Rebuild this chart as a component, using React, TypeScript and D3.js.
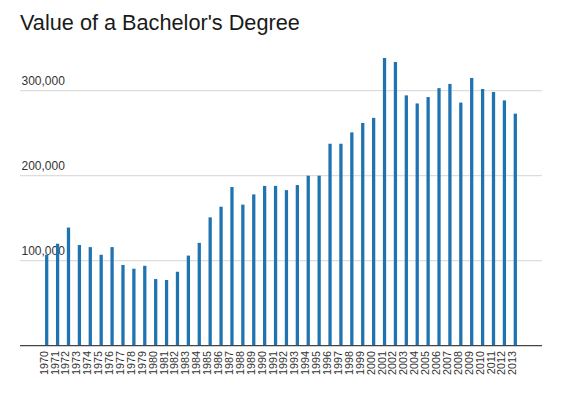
import React, { useEffect, useRef } from "react";
import * as d3 from "d3";

const years = [
  "1970", "1971", "1972", "1973", "1974", "1975", "1976", "1977", "1978", "1979",
  "1980", "1981", "1982", "1983", "1984", "1985", "1986", "1987", "1988", "1989",
  "1990", "1991", "1992", "1993", "1994", "1995", "1996", "1997", "1998", "1999",
  "2000", "2001", "2002", "2003", "2004", "2005", "2006", "2007", "2008", "2009",
  "2010", "2011", "2012", "2013",
];

const values = [
  107000, 120000, 139000, 118500, 116000, 107000, 116000, 95000, 90600, 94000,
  78400, 77300, 87000, 106000, 121000, 151000, 163500, 186700, 166000, 178000,
  188000, 188000, 183000, 189000, 200000, 200000, 237600, 237600, 251000, 262000,
  268000, 338500, 333800, 294500, 285000, 292500, 303000, 308000, 286000, 315000,
  302000, 298500, 288600, 273000,
];

const yTicks = [100000, 200000, 300000];

const title = "Value of a Bachelor's Degree";

const App = () => {
  const ref = useRef(null);

  useEffect(() => {
    const width = 563;
    const height = 399;
    const left = 20;
    const right = 542;

    const root = d3.select(ref.current);
    root.selectAll("*").remove();

    const svg = root
      .append("svg")
      .attr("width", width)
      .attr("height", height)
      .style("position", "absolute")
      .style("left", "0px")
      .style("top", "0px")
      .style("font-family", "'Liberation Sans', Arial, Helvetica, sans-serif");

    const data = years.map((y, i) => ({ year: y, value: values[i] }));

    const x = d3
      .scaleBand()
      .domain(years)
      .range([left, right])
      .paddingInner(0.7)
      .paddingOuter(2.3);

    const y = d3.scaleLinear().domain([0, 300000]).range([345.7, 90.7]);

    // title
    svg
      .append("text")
      .attr("x", left)
      .attr("y", 30)
      .attr("font-size", 21.7)
      .attr("fill", "#1a1a1a")
      .text(title);

    // gridlines + tick labels
    const grid = svg.append("g");
    grid
      .selectAll("line")
      .data(yTicks)
      .enter()
      .append("line")
      .attr("x1", left)
      .attr("x2", right)
      .attr("y1", (d) => y(d))
      .attr("y2", (d) => y(d))
      .attr("stroke", "#dddddd")
      .attr("stroke-width", 1.2);

    grid
      .selectAll("text")
      .data(yTicks)
      .enter()
      .append("text")
      .attr("x", left + 1.5)
      .attr("y", (d) => y(d) - 5.5)
      .attr("font-size", 12)
      .attr("fill", "#333")
      .text((d) => d3.format(",")(d));

    // bars
    svg
      .append("g")
      .selectAll("rect")
      .data(data)
      .enter()
      .append("rect")
      .attr("x", (d) => x(d.year))
      .attr("y", (d) => y(d.value))
      .attr("width", x.bandwidth())
      .attr("height", (d) => y(0) - y(d.value))
      .attr("fill", "#1f73b0");

    // baseline
    svg
      .append("line")
      .attr("x1", left)
      .attr("x2", right)
      .attr("y1", y(0))
      .attr("y2", y(0))
      .attr("stroke", "#444")
      .attr("stroke-width", 1.2);

    // year labels
    svg
      .append("g")
      .selectAll("text")
      .data(years)
      .enter()
      .append("text")
      .attr(
        "transform",
        (d) => `translate(${x(d) + x.bandwidth() / 2 + 1},351) rotate(-90)`
      )
      .attr("text-anchor", "end")
      .attr("font-size", 10.8)
      .attr("fill", "#333")
      .text((d) => d);
  }, []);

  return <div ref={ref}></div>;
};

export default App;
